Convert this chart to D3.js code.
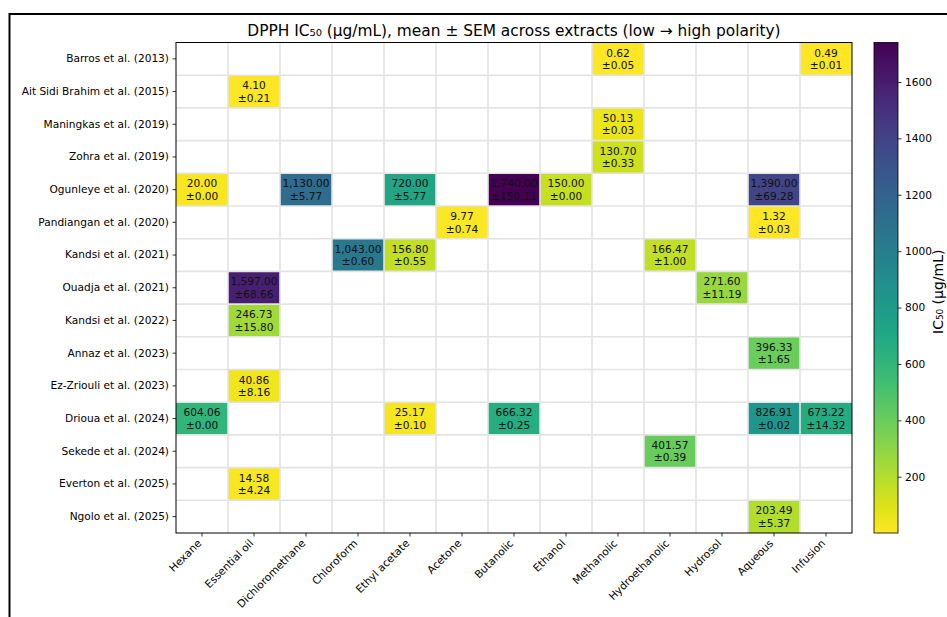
<!DOCTYPE html>
<html>
<head>
<meta charset="utf-8">
<script src="https://cdn.jsdelivr.net/npm/d3@7"></script>
<style>
  html, body { margin: 0; padding: 0; background: #fff; }
  svg { display: block; font-family: "DejaVu Sans", sans-serif; }
</style>
</head>
<body>
<svg id="chart" width="947" height="617"></svg>
<script>
const titleText = "DPPH IC\u2085\u2080 (\u00b5g/mL), mean \u00b1 SEM across extracts (low \u2192 high polarity)";
const colorbarLabel = "IC\u2085\u2080 (\u00b5g/mL)";

const studies = [
  "Barros et al. (2013)",
  "Ait Sidi Brahim et al. (2015)",
  "Maningkas et al. (2019)",
  "Zohra et al. (2019)",
  "Ogunleye et al. (2020)",
  "Pandiangan et al. (2020)",
  "Kandsi et al. (2021)",
  "Ouadja et al. (2021)",
  "Kandsi et al. (2022)",
  "Annaz et al. (2023)",
  "Ez-Zriouli et al. (2023)",
  "Drioua et al. (2024)",
  "Sekede et al. (2024)",
  "Everton et al. (2025)",
  "Ngolo et al. (2025)"
];

const extracts = ["Hexane", "Essential oil", "Dichloromethane", "Chloroform", "Ethyl acetate",
  "Acetone", "Butanolic", "Ethanol", "Methanolic", "Hydroethanolic", "Hydrosol", "Aqueous", "Infusion"];

// one entry per filled cell
const cellStudy = [
  "Barros et al. (2013)", "Barros et al. (2013)",
  "Ait Sidi Brahim et al. (2015)",
  "Maningkas et al. (2019)",
  "Zohra et al. (2019)",
  "Ogunleye et al. (2020)", "Ogunleye et al. (2020)", "Ogunleye et al. (2020)",
  "Ogunleye et al. (2020)", "Ogunleye et al. (2020)", "Ogunleye et al. (2020)",
  "Pandiangan et al. (2020)", "Pandiangan et al. (2020)",
  "Kandsi et al. (2021)", "Kandsi et al. (2021)", "Kandsi et al. (2021)",
  "Ouadja et al. (2021)", "Ouadja et al. (2021)",
  "Kandsi et al. (2022)",
  "Annaz et al. (2023)",
  "Ez-Zriouli et al. (2023)",
  "Drioua et al. (2024)", "Drioua et al. (2024)", "Drioua et al. (2024)",
  "Drioua et al. (2024)", "Drioua et al. (2024)",
  "Sekede et al. (2024)",
  "Everton et al. (2025)",
  "Ngolo et al. (2025)"
];
const cellExtract = [
  "Methanolic", "Infusion",
  "Essential oil",
  "Methanolic",
  "Methanolic",
  "Hexane", "Dichloromethane", "Ethyl acetate", "Butanolic", "Ethanol", "Aqueous",
  "Acetone", "Aqueous",
  "Chloroform", "Ethyl acetate", "Hydroethanolic",
  "Essential oil", "Hydrosol",
  "Essential oil",
  "Aqueous",
  "Essential oil",
  "Hexane", "Ethyl acetate", "Butanolic", "Aqueous", "Infusion",
  "Hydroethanolic",
  "Essential oil",
  "Aqueous"
];
const cellMean = [
  0.62, 0.49,
  4.10,
  50.13,
  130.70,
  20.00, 1130.00, 720.00, 1740.00, 150.00, 1390.00,
  9.77, 1.32,
  1043.00, 156.80, 166.47,
  1597.00, 271.60,
  246.73,
  396.33,
  40.86,
  604.06, 25.17, 666.32, 826.91, 673.22,
  401.57,
  14.58,
  203.49
];
const cellSem = [
  0.05, 0.01,
  0.21,
  0.03,
  0.33,
  0.00, 5.77, 5.77, 150.11, 0.00, 69.28,
  0.74, 0.03,
  0.60, 0.55, 1.00,
  68.66, 11.19,
  15.80,
  1.65,
  8.16,
  0.00, 0.10, 0.25, 0.02, 14.32,
  0.39,
  4.24,
  5.37
];
const colorbarTicks = [200, 400, 600, 800, 1000, 1200, 1400, 1600];

const cells = cellMean.map((m, i) => ({ study: cellStudy[i], extract: cellExtract[i], mean: m, sem: cellSem[i] }));

const svg = d3.select("#chart");
const W = 947, H = 617;
const plot = { left: 176, right: 852, top: 42.5, bottom: 533 };
const fontSz = 10.6;

// outer frame
svg.append("path")
  .attr("d", `M9.5,${H + 5} L9.5,14 L${W + 5},14`)
  .attr("fill", "none").attr("stroke", "#000").attr("stroke-width", 2);

const x = d3.scaleBand().domain(extracts).range([plot.left, plot.right]).padding(0);
const y = d3.scaleBand().domain(studies).range([plot.top, plot.bottom]).padding(0);

const vmin = d3.min(cellMean), vmax = d3.max(cellMean);
const color = d3.scaleSequential(t => d3.interpolateViridis(1 - t)).domain([vmin, vmax]);

// cells
svg.append("g").selectAll("rect").data(cells).join("rect")
  .attr("x", d => x(d.extract))
  .attr("y", d => y(d.study))
  .attr("width", x.bandwidth())
  .attr("height", y.bandwidth())
  .attr("fill", d => color(d.mean));

// grid lines
const grid = svg.append("g").attr("stroke", "#e3e3e3").attr("stroke-width", 1.6);
d3.range(1, extracts.length).forEach(i => {
  const gx = plot.left + i * x.step();
  grid.append("line").attr("x1", gx).attr("x2", gx).attr("y1", plot.top).attr("y2", plot.bottom);
});
d3.range(1, studies.length).forEach(i => {
  const gy = plot.top + i * y.step();
  grid.append("line").attr("x1", plot.left).attr("x2", plot.right).attr("y1", gy).attr("y2", gy);
});

// cell labels
const fmt = d3.format(",.2f");
const lab = svg.append("g").attr("font-size", fontSz).attr("fill", "#111").attr("text-anchor", "middle");
cells.forEach(d => {
  const cx = x(d.extract) + x.bandwidth() / 2;
  const cy = y(d.study) + y.bandwidth() / 2;
  lab.append("text").attr("x", cx).attr("y", cy - 2.3).text(fmt(d.mean));
  lab.append("text").attr("x", cx).attr("y", cy + 10.2).text("\u00b1" + fmt(d.sem));
});

// plot frame
svg.append("rect")
  .attr("x", plot.left).attr("y", plot.top)
  .attr("width", plot.right - plot.left).attr("height", plot.bottom - plot.top)
  .attr("fill", "none").attr("stroke", "#000").attr("stroke-width", 1);

// y axis
const yAxis = svg.append("g").attr("transform", `translate(${plot.left},0)`)
  .call(d3.axisLeft(y).tickSize(3.5).tickPadding(3.5));
yAxis.select(".domain").remove();
yAxis.selectAll("text").attr("font-size", fontSz).attr("font-family", "DejaVu Sans").attr("fill", "#000");
yAxis.selectAll("line").attr("stroke", "#000").attr("stroke-width", 0.8);

// x axis
const xAxis = svg.append("g").attr("transform", `translate(0,${plot.bottom})`)
  .call(d3.axisBottom(x).tickSize(3.5).tickPadding(3.5));
xAxis.select(".domain").remove();
xAxis.selectAll("line").attr("stroke", "#000").attr("stroke-width", 0.8);
xAxis.selectAll("text")
  .attr("font-size", fontSz).attr("font-family", "DejaVu Sans").attr("fill", "#000")
  .attr("text-anchor", "end")
  .attr("dy", null).attr("y", null)
  .attr("transform", "translate(0,11) rotate(-45)");

// title
svg.append("text")
  .attr("x", (plot.left + plot.right) / 2).attr("y", 35.5)
  .attr("text-anchor", "middle").attr("font-size", 15.4).attr("fill", "#000")
  .text(titleText);

// colorbar
const cb = { x: 874, w: 24, top: plot.top, bottom: plot.bottom };
const defs = svg.append("defs");
const grad = defs.append("linearGradient").attr("id", "cbgrad")
  .attr("x1", 0).attr("y1", 1).attr("x2", 0).attr("y2", 0);
d3.range(0, 1.0001, 0.05).forEach(t => {
  grad.append("stop").attr("offset", t).attr("stop-color", color(vmin + t * (vmax - vmin)));
});
svg.append("rect").attr("x", cb.x).attr("y", cb.top).attr("width", cb.w).attr("height", cb.bottom - cb.top)
  .attr("fill", "url(#cbgrad)").attr("stroke", "#000").attr("stroke-width", 0.8);
const cbScale = d3.scaleLinear().domain([vmin, vmax]).range([cb.bottom, cb.top]);
const cbAxis = svg.append("g").attr("transform", `translate(${cb.x + cb.w},0)`)
  .call(d3.axisRight(cbScale).tickValues(colorbarTicks).tickFormat(d3.format("d")).tickSize(3.5).tickPadding(3.5));
cbAxis.select(".domain").remove();
cbAxis.selectAll("line").attr("stroke", "#000").attr("stroke-width", 0.8);
cbAxis.selectAll("text").attr("font-size", fontSz).attr("font-family", "DejaVu Sans").attr("fill", "#000");

svg.append("text")
  .attr("transform", `translate(942.5,${(cb.top + cb.bottom) / 2 + 4}) rotate(-90)`)
  .attr("text-anchor", "middle").attr("font-size", 14).attr("fill", "#000")
  .text(colorbarLabel);
</script>
</body>
</html>
